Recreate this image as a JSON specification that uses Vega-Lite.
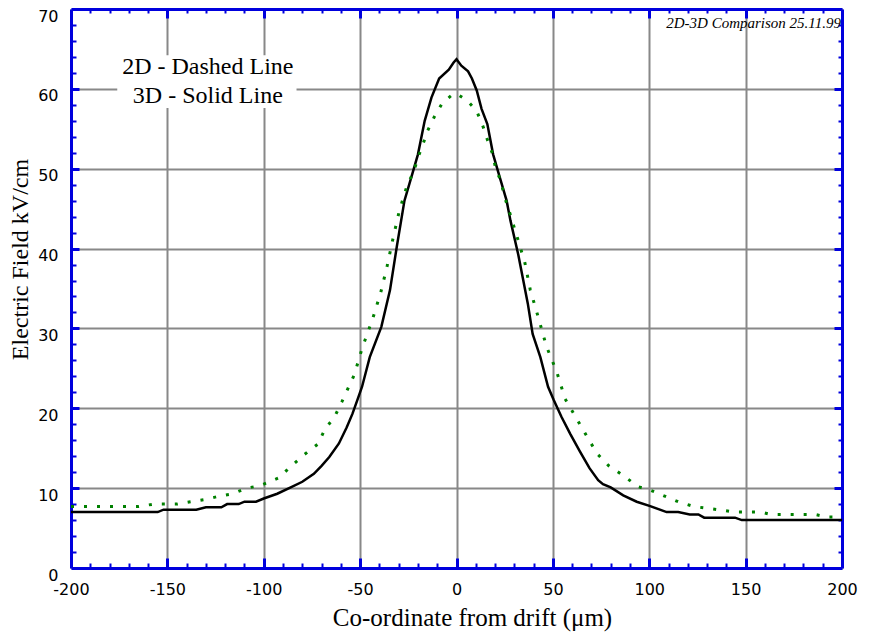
{
  "$schema": "https://vega.github.io/schema/vega-lite/v6.json",
  "width": 771,
  "height": 559,
  "autosize": {"type": "none"},
  "padding": {"left": 71, "top": 9, "right": 35, "bottom": 68},
  "background": "white",
  "config": {
    "view": {"stroke": null},
    "axis": {
      "domainColor": "#0000dd",
      "domainWidth": 3,
      "tickColor": "#0000dd",
      "gridColor": "#888888",
      "gridWidth": 2,
      "gridOpacity": 1,
      "labelFont": "DejaVu Sans",
      "labelFontSize": 16,
      "labelColor": "#000000",
      "labelFlush": false,
      "labelOverlap": false,
      "titleFont": "Liberation Serif",
      "titleFontWeight": "normal",
      "titleFontSize": 24,
      "titleColor": "#000000"
    }
  },
  "datasets": {
    "solid3d": [
      {"x": -200, "y": 7.0}, {"x": -155, "y": 7.0}, {"x": -152, "y": 7.3}, {"x": -135, "y": 7.3},
      {"x": -130, "y": 7.6}, {"x": -122, "y": 7.6}, {"x": -119, "y": 8.0}, {"x": -113, "y": 8.0},
      {"x": -110, "y": 8.3}, {"x": -104, "y": 8.3}, {"x": -100, "y": 8.7}, {"x": -93, "y": 9.3},
      {"x": -86, "y": 10.1}, {"x": -80, "y": 10.8}, {"x": -74, "y": 11.8}, {"x": -70, "y": 12.8},
      {"x": -66, "y": 13.9}, {"x": -61, "y": 15.6}, {"x": -57, "y": 17.6}, {"x": -54, "y": 19.3},
      {"x": -51.5, "y": 21.0}, {"x": -49, "y": 22.7}, {"x": -45, "y": 26.4}, {"x": -39, "y": 30.2},
      {"x": -34.5, "y": 34.8}, {"x": -31, "y": 40.2}, {"x": -27, "y": 46.0}, {"x": -23, "y": 49.3},
      {"x": -20, "y": 51.8}, {"x": -16.5, "y": 56.0}, {"x": -13, "y": 58.9}, {"x": -9, "y": 61.3},
      {"x": -4, "y": 62.4}, {"x": -1.5, "y": 63.3}, {"x": 0, "y": 63.7}, {"x": 2.5, "y": 62.9},
      {"x": 6, "y": 62.2}, {"x": 8, "y": 61.3}, {"x": 10.5, "y": 59.8}, {"x": 13, "y": 57.5},
      {"x": 16, "y": 55.6}, {"x": 19, "y": 51.8}, {"x": 22, "y": 49.3}, {"x": 26, "y": 46.0},
      {"x": 28, "y": 43.5}, {"x": 32, "y": 39.3}, {"x": 37, "y": 33.1}, {"x": 39.5, "y": 29.3},
      {"x": 43.5, "y": 26.4}, {"x": 47.5, "y": 22.7}, {"x": 50.5, "y": 21.0}, {"x": 54.5, "y": 18.9},
      {"x": 59, "y": 16.8}, {"x": 64, "y": 14.6}, {"x": 69, "y": 12.5}, {"x": 73.5, "y": 11.0},
      {"x": 76, "y": 10.5}, {"x": 80, "y": 10.1}, {"x": 86.5, "y": 9.1}, {"x": 93.5, "y": 8.3},
      {"x": 100.5, "y": 7.75}, {"x": 109, "y": 7.0}, {"x": 115, "y": 7.0}, {"x": 121, "y": 6.7},
      {"x": 125.5, "y": 6.7}, {"x": 128.5, "y": 6.3}, {"x": 144.5, "y": 6.3}, {"x": 148, "y": 6.0},
      {"x": 200, "y": 6.0}
    ],
    "dotted2d": [
      {"x": -200, "y": 7.7}, {"x": -165, "y": 7.7}, {"x": -157, "y": 8.0}, {"x": -145, "y": 8.0},
      {"x": -138, "y": 8.3}, {"x": -130, "y": 8.6}, {"x": -123, "y": 9.0}, {"x": -116, "y": 9.3},
      {"x": -109, "y": 10.0}, {"x": -102, "y": 10.3}, {"x": -92, "y": 11.3}, {"x": -87, "y": 12.5},
      {"x": -79, "y": 14.2}, {"x": -72, "y": 15.5}, {"x": -68, "y": 17.5}, {"x": -63.5, "y": 18.8},
      {"x": -59.5, "y": 20.8}, {"x": -53, "y": 24.2}, {"x": -49, "y": 27.5}, {"x": -43.5, "y": 31.2},
      {"x": -39.3, "y": 34.5}, {"x": -36, "y": 37.8}, {"x": -33, "y": 41.2}, {"x": -29.7, "y": 44.7},
      {"x": -25.5, "y": 48.0}, {"x": -22.4, "y": 49.5}, {"x": -19.8, "y": 51.5}, {"x": -17.2, "y": 53.2},
      {"x": -14.9, "y": 54.8}, {"x": -11.5, "y": 56.5}, {"x": -7.4, "y": 58.2}, {"x": -2, "y": 59.3},
      {"x": 0, "y": 59.4}, {"x": 5.8, "y": 58.5}, {"x": 10.5, "y": 57.2}, {"x": 13.9, "y": 55.2},
      {"x": 16.2, "y": 53.5}, {"x": 18.8, "y": 51.8}, {"x": 20.5, "y": 49.8}, {"x": 23.1, "y": 48.5},
      {"x": 24.5, "y": 46.8}, {"x": 27.2, "y": 44.8}, {"x": 31.4, "y": 41.5}, {"x": 35.5, "y": 38.2},
      {"x": 38.3, "y": 34.8}, {"x": 42.3, "y": 31.5}, {"x": 46.6, "y": 27.8}, {"x": 52.1, "y": 24.5},
      {"x": 56.3, "y": 21.2}, {"x": 60.4, "y": 19.5}, {"x": 64.5, "y": 17.8}, {"x": 68.6, "y": 16.1},
      {"x": 73, "y": 14.3}, {"x": 79, "y": 12.8}, {"x": 87, "y": 11.5}, {"x": 94, "y": 10.2},
      {"x": 101, "y": 9.7}, {"x": 108, "y": 9.0}, {"x": 115, "y": 8.3}, {"x": 123, "y": 7.7},
      {"x": 136, "y": 7.3}, {"x": 144, "y": 7.0}, {"x": 158, "y": 7.0}, {"x": 163, "y": 6.7},
      {"x": 186, "y": 6.7}, {"x": 192, "y": 6.4}, {"x": 200, "y": 6.4}
    ]
  },
  "layer": [
    {
      "data": {"values": [{"box": "legend"}]},
      "mark": {"type": "rect", "color": "white"},
      "encoding": {
        "x": {"datum": -176, "type": "quantitative",
          "scale": {"domain": [-200, 200], "nice": false, "zero": false},
          "axis": {"orient": "bottom", "values": [-190,-180,-170,-160,-140,-130,-120,-110,-90,-80,-70,-60,-40,-30,-20,-10,10,20,30,40,60,70,80,90,110,120,130,140,160,170,180,190],
            "tickSize": -5, "tickWidth": 2, "labels": false, "domain": false, "grid": false, "title": null}},
        "x2": {"datum": -83},
        "y": {"datum": 57.6, "type": "quantitative",
          "scale": {"domain": [0, 70], "nice": false, "zero": true},
          "axis": {"orient": "left", "values": [2,4,6,8,12,14,16,18,22,24,26,28,32,34,36,38,42,44,46,48,52,54,56,58,62,64,66,68],
            "tickSize": -5, "tickWidth": 2, "labels": false, "domain": false, "grid": false, "title": null}},
        "y2": {"datum": 64.2}
      }
    },
    {
      "data": {"name": "solid3d"},
      "mark": {"type": "line", "color": "#000000", "strokeWidth": 2.5},
      "encoding": {
        "x": {"field": "x", "type": "quantitative",
          "scale": {"domain": [-200, 200], "nice": false, "zero": false},
          "axis": {"orient": "bottom", "values": [-200,-150,-100,-50,0,50,100,150,200],
            "ticks": false, "grid": true, "labelPadding": 13, "labelExpr": "'' + datum.value",
            "title": "Co-ordinate from drift (μm)", "titleFontSize": 25, "titleX": 401, "titleY": 57, "titleBaseline": "alphabetic"}},
        "y": {"field": "y", "type": "quantitative",
          "scale": {"domain": [0, 70], "nice": false, "zero": true},
          "axis": {"orient": "left", "values": [0,10,20,30,40,50,60,70],
            "ticks": false, "grid": true, "labelPadding": 13, "labelBaseline": "top", "labelOffset": -1,
            "title": "Electric Field kV/cm", "titleX": -44, "titleY": 250, "titleBaseline": "alphabetic"}}
      }
    },
    {
      "data": {"name": "dotted2d"},
      "mark": {"type": "line", "color": "#008000", "strokeWidth": 3, "strokeDash": [3, 10], "strokeCap": "butt"},
      "encoding": {
        "x": {"field": "x", "type": "quantitative",
          "scale": {"domain": [-200, 200], "nice": false, "zero": false},
          "axis": {"orient": "top", "values": [-150,-100,-50,0,50,100,150],
            "tickSize": -9, "tickWidth": 3, "labels": false, "grid": false, "title": null}},
        "y": {"field": "y", "type": "quantitative",
          "scale": {"domain": [0, 70], "nice": false, "zero": true},
          "axis": {"orient": "right", "values": [10,20,30,40,50,60],
            "tickSize": -8, "tickWidth": 3, "labels": false, "grid": false, "title": null}}
      }
    },
    {
      "data": {"values": [{"note": "legend"}]},
      "mark": {"type": "text", "font": "Liberation Serif", "fontSize": 24, "align": "center", "baseline": "alphabetic", "lineHeight": 29, "color": "#000000",
        "text": ["2D - Dashed Line", "3D - Solid Line"]},
      "encoding": {
        "x": {"datum": -129, "type": "quantitative",
          "scale": {"domain": [-200, 200], "nice": false, "zero": false},
          "axis": {"orient": "bottom", "values": [-150,-100,-50,0,50,100,150],
            "tickSize": -10, "tickWidth": 3, "labels": false, "domain": false, "grid": false, "title": null}},
        "y": {"datum": 61.86, "type": "quantitative",
          "scale": {"domain": [0, 70], "nice": false, "zero": true},
          "axis": {"orient": "left", "values": [10,20,30,40,50,60],
            "tickSize": -8, "tickWidth": 3, "labels": false, "domain": false, "grid": false, "title": null}}
      }
    },
    {
      "data": {"values": [{"note": "stamp"}]},
      "mark": {"type": "text", "font": "Liberation Serif", "fontSize": 15, "fontStyle": "italic", "align": "right", "baseline": "alphabetic", "dx": -1, "color": "#000000",
        "text": "2D-3D Comparison 25.11.99"},
      "encoding": {
        "x": {"datum": 200, "type": "quantitative",
          "scale": {"domain": [-200, 200], "nice": false, "zero": false},
          "axis": {"orient": "top", "values": [-190,-180,-170,-160,-140,-130,-120,-110,-90,-80,-70,-60,-40,-30,-20,-10,10,20,30,40,60,70,80,90,110,120,130,140,160,170,180,190],
            "tickSize": -4, "tickWidth": 2, "labels": false, "domain": false, "grid": false, "title": null}},
        "y": {"datum": 67.6, "type": "quantitative",
          "scale": {"domain": [0, 70], "nice": false, "zero": true},
          "axis": {"orient": "right", "values": [2,4,6,8,12,14,16,18,22,24,26,28,32,34,36,38,42,44,46,48,52,54,56,58,62,64,66,68],
            "tickSize": -4, "tickWidth": 2, "labels": false, "domain": false, "grid": false, "title": null}}
      }
    }
  ],
  "resolve": {"axis": {"x": "independent", "y": "independent"}}
}
